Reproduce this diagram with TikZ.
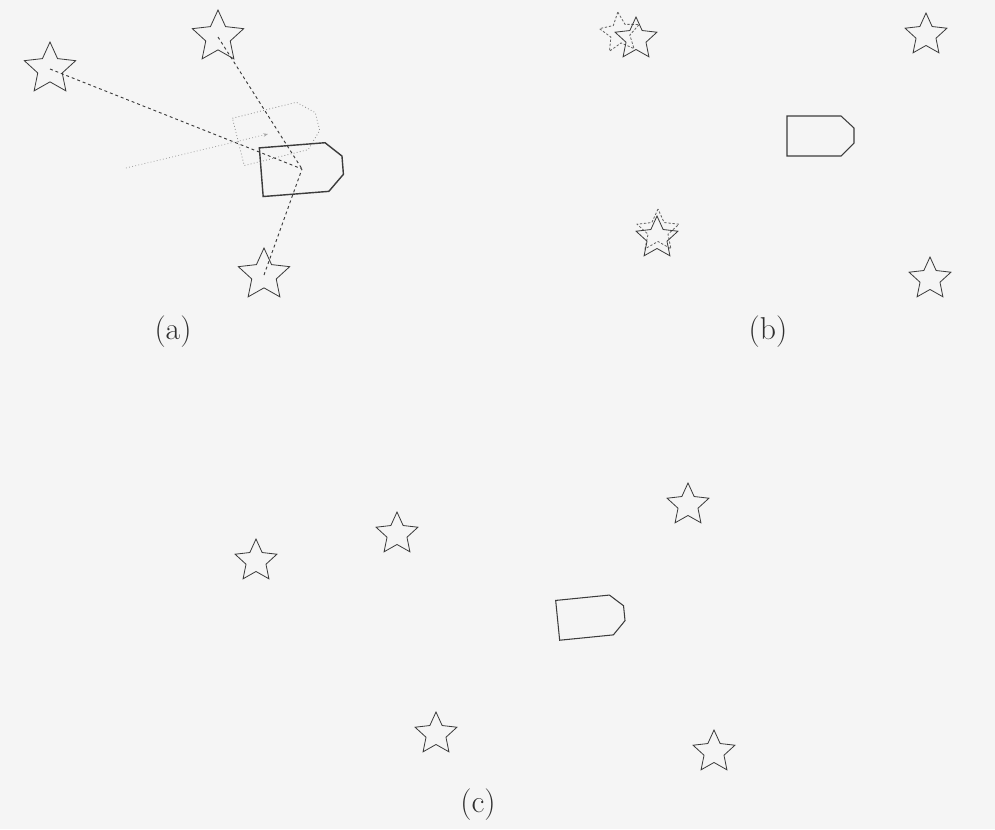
\documentclass[tikz,border=0pt]{standalone}
\usepackage{fontspec}
\usetikzlibrary{arrows.meta,shapes.geometric}
\definecolor{scanPaper}{RGB}{245,245,245}
\definecolor{scanInk}  {RGB}{60,60,60}
\definecolor{scanGhost}{RGB}{140,140,140}
\definecolor{scanOdo}  {RGB}{165,165,165}
\tikzset{
  landmark/.style={draw=scanInk,line width=0.7pt,shape=star,star points=5,
                   star point ratio=2.1,minimum size=1.32cm,inner sep=0pt},
  bigmark/.style={landmark,minimum size=1.62cm},
  ghostmark/.style={landmark,draw=scanInk!80,dash pattern=on 2pt off 1.5pt},
  obsline/.style={draw=scanInk,line width=0.8pt,dash pattern=on 2.5pt off 2.5pt},
  odoline/.style={draw=scanOdo,line width=0.7pt,dotted},
  robotline/.style={draw=scanInk,line width=0.9pt},
  ghostrobot/.style={draw=scanGhost,line width=0.7pt,dotted},
  panel/.style={text=scanInk!80!black,font=\fontsize{27}{31}\selectfont},
  robot/.pic={
    \draw[pic actions] (-33.5,-20) -- (20.5,-20) -- (33.5,-8) -- (33.5,7)
          -- (20.5,20) -- (-33.5,20) -- cycle;
  }
}
\begin{document}
\begin{tikzpicture}[x=0.03cm,y=-0.03cm]

    \fill[scanPaper] (0,0) rectangle (995,829);
    \useasboundingbox (0,0) rectangle (995,829);

    % ── (a) ───────────────────────────────────────────────
    \foreach \n/\x/\y in {a1/50/69,a2/218/37,a3/264/275}{
      \node[bigmark] (\n) at (\x,\y) {};
    }
    \coordinate (ra) at (302,169);
    \coordinate (rg) at (278,132);
    \coordinate (ao) at (126,168);
    \coordinate (ag) at (268,134);
    \pic[ghostrobot,rotate=14,scale=1.22] at (rg) {robot};
    \draw[odoline,-{Stealth[length=4pt,width=3pt]}] (ao) -- (ag);
    \foreach \n in {a1,a2,a3}{
      \draw[obsline] (\n.center) -- (ra);
    }
    \pic[robotline,line width=1.2pt,rotate=4.5,scale=1.22] at (ra) {robot};
    \node[panel] (la) at (173,332) {(a)};

    % ── (b) ───────────────────────────────────────────────
    \node[ghostmark,minimum size=1.26cm,rotate=6] (b1g) at (620,33) {};
    \node[ghostmark] (b3g) at (658,231) {};
    \foreach \n/\x/\y in {b1/636/39,b2/926/35,b3/657/238,b4/930/279}{
      \node[landmark] (\n) at (\x,\y) {};
    }
    \coordinate (rb) at (820.5,136);
    \pic[robotline] at (rb) {robot};
    \node[panel] (lb) at (768,332) {(b)};

    % ── (c) ───────────────────────────────────────────────
    \foreach \n/\x/\y in {c1/256/561,c2/397/534,c3/688/505,c4/436/734,c5/714/752}{
      \node[landmark] (\n) at (\x,\y) {};
    }
    \coordinate (rc) at (591,617);
    \pic[robotline,rotate=5.7] at (rc) {robot};
    \node[panel] (lc) at (478,805) {(c)};

\end{tikzpicture}
\end{document}
